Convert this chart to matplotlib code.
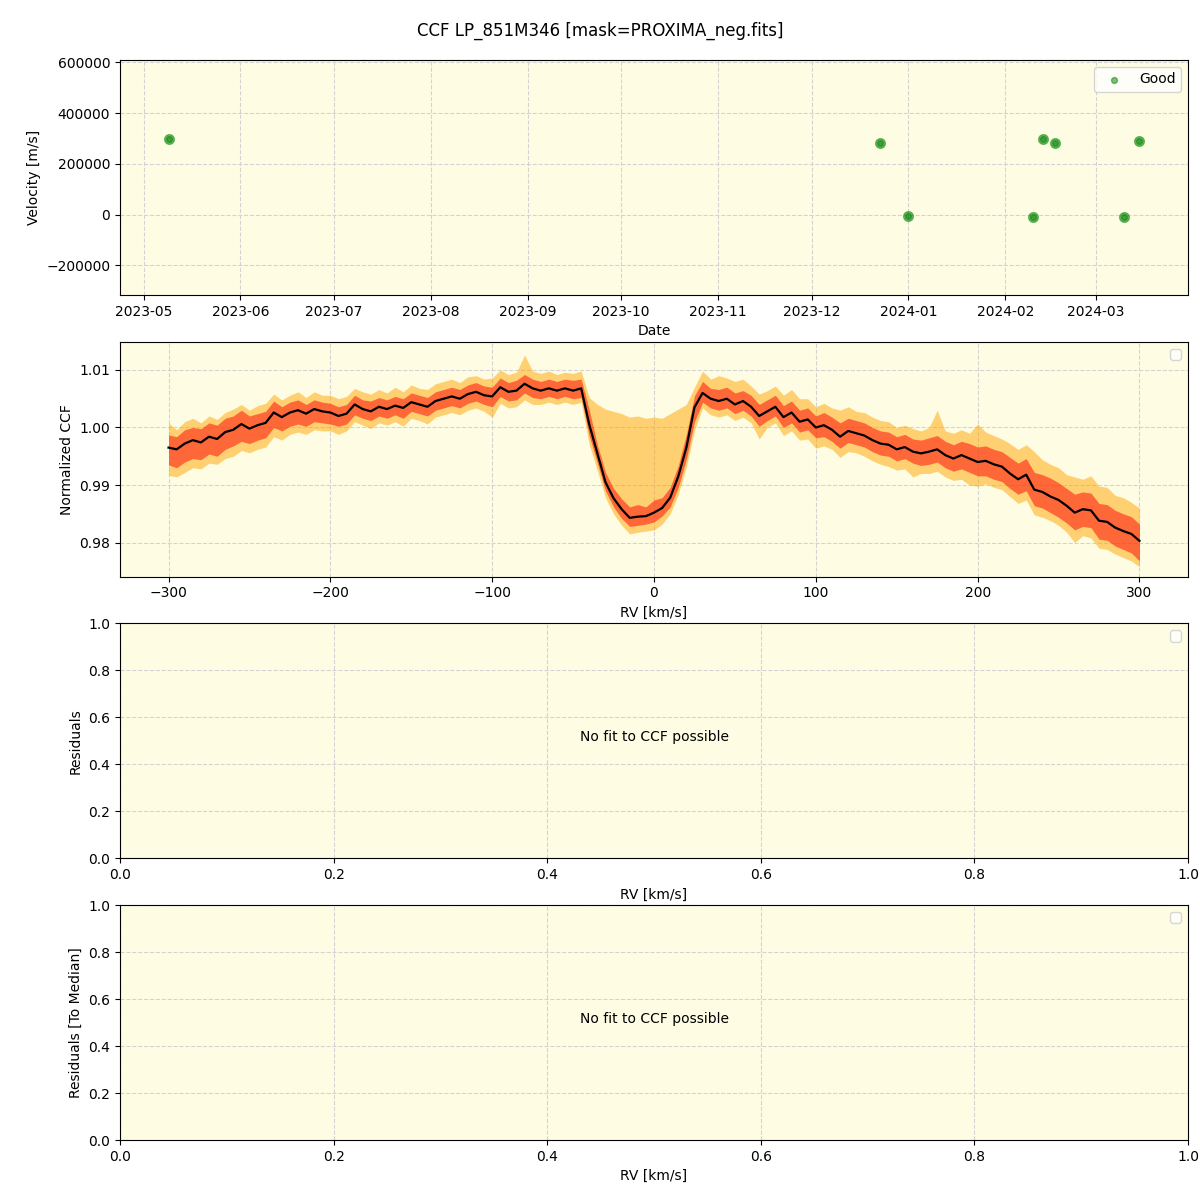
import numpy as np
import matplotlib
matplotlib.use('Agg')
from matplotlib import pyplot as plt
import matplotlib.dates as mdates
from datetime import datetime

# --- RV time series (top panel)
obs_dates = ['2023-05-09', '2023-12-23', '2024-01-01', '2024-02-10',
             '2024-02-13', '2024-02-17', '2024-03-10', '2024-03-15']
obs_rv = [298100, 282400, -6700, -10600, 298100, 282400, -10600, 290200]

# --- CCF profile (second panel), RV grid in km/s
rv = np.arange(-300, 301, 5)
ccf_med = [
    0.9965, 0.9962, 0.9972, 0.9978, 0.9974, 0.9984, 0.9980, 0.9992, 0.9996, 1.0006,
    0.9998, 1.0004, 1.0008, 1.0026, 1.0018, 1.0026, 1.0030, 1.0024, 1.0032, 1.0028,
    1.0026, 1.0020, 1.0024, 1.0040, 1.0032, 1.0028, 1.0036, 1.0032, 1.0038, 1.0034,
    1.0044, 1.0040, 1.0036, 1.0046, 1.0050, 1.0054, 1.0050, 1.0058, 1.0062, 1.0056,
    1.0054, 1.0070, 1.0062, 1.0064, 1.0076, 1.0068, 1.0064, 1.0068, 1.0064, 1.0068,
    1.0064, 1.0068, 1.0005, 0.9955, 0.9905, 0.9877, 0.9858, 0.9843, 0.9845, 0.9846,
    0.9852, 0.9860, 0.9878, 0.9915, 0.9965, 1.0035, 1.0060, 1.0050, 1.0046, 1.0050,
    1.0040, 1.0046, 1.0036, 1.0020, 1.0028, 1.0036, 1.0018, 1.0026, 1.0010, 1.0014,
    1.0000, 1.0004, 0.9996, 0.9984, 0.9994, 0.9990, 0.9986, 0.9978, 0.9972, 0.9970,
    0.9962, 0.9966, 0.9958, 0.9955, 0.9958, 0.9962, 0.9952, 0.9946, 0.9952, 0.9946,
    0.9940, 0.9942, 0.9936, 0.9932, 0.9920, 0.9910, 0.9918, 0.9892, 0.9888, 0.9880,
    0.9874, 0.9864, 0.9852, 0.9858, 0.9856, 0.9838, 0.9836, 0.9826, 0.9820, 0.9815,
    0.9803]
ccf_in_lo = [
    0.9935, 0.9930, 0.9940, 0.9946, 0.9944, 0.9954, 0.9950, 0.9962, 0.9968, 0.9976,
    0.9972, 0.9978, 0.9982, 1.0000, 0.9994, 1.0002, 1.0006, 1.0002, 1.0010, 1.0008,
    1.0006, 1.0002, 1.0006, 1.0022, 1.0016, 1.0012, 1.0020, 1.0016, 1.0022, 1.0016,
    1.0028, 1.0024, 1.0020, 1.0030, 1.0034, 1.0038, 1.0034, 1.0042, 1.0046, 1.0040,
    1.0036, 1.0054, 1.0046, 1.0048, 1.0060, 1.0052, 1.0050, 1.0054, 1.0050, 1.0054,
    1.0050, 1.0052, 0.9985, 0.9938, 0.9890, 0.9862, 0.9842, 0.9828, 0.9830, 0.9832,
    0.9836, 0.9846, 0.9862, 0.9896, 0.9945, 1.0010, 1.0044, 1.0034, 1.0030, 1.0034,
    1.0024, 1.0030, 1.0020, 1.0002, 1.0012, 1.0020, 1.0000, 1.0008, 0.9992, 0.9996,
    0.9982, 0.9984, 0.9976, 0.9964, 0.9974, 0.9970, 0.9966, 0.9958, 0.9952, 0.9950,
    0.9942, 0.9946, 0.9938, 0.9934, 0.9936, 0.9940, 0.9930, 0.9924, 0.9928, 0.9922,
    0.9916, 0.9916, 0.9910, 0.9906, 0.9894, 0.9884, 0.9890, 0.9864, 0.9860, 0.9852,
    0.9844, 0.9834, 0.9822, 0.9828, 0.9826, 0.9806, 0.9804, 0.9794, 0.9788, 0.9782,
    0.9768]
ccf_in_hi = [
    0.9987, 0.9984, 0.9996, 1.0000, 0.9998, 1.0008, 1.0004, 1.0016, 1.0020, 1.0030,
    1.0020, 1.0024, 1.0028, 1.0046, 1.0036, 1.0044, 1.0048, 1.0040, 1.0048, 1.0044,
    1.0042, 1.0036, 1.0040, 1.0056, 1.0048, 1.0046, 1.0052, 1.0048, 1.0054, 1.0050,
    1.0060, 1.0056, 1.0052, 1.0062, 1.0066, 1.0070, 1.0066, 1.0074, 1.0078, 1.0072,
    1.0070, 1.0086, 1.0078, 1.0082, 1.0092, 1.0084, 1.0080, 1.0084, 1.0080, 1.0084,
    1.0082, 1.0084, 1.0030, 0.9970, 0.9922, 0.9894, 0.9876, 0.9862, 0.9866, 0.9862,
    0.9874, 0.9878, 0.9896, 0.9934, 0.9988, 1.0055, 1.0080, 1.0068, 1.0066, 1.0070,
    1.0060, 1.0064, 1.0056, 1.0040, 1.0048, 1.0056, 1.0038, 1.0046, 1.0030, 1.0034,
    1.0020, 1.0026, 1.0018, 1.0008, 1.0016, 1.0012, 1.0008, 1.0000, 0.9994, 0.9992,
    0.9984, 0.9988, 0.9980, 0.9978, 0.9982, 0.9986, 0.9976, 0.9970, 0.9976, 0.9972,
    0.9966, 0.9968, 0.9962, 0.9958, 0.9948, 0.9938, 0.9946, 0.9922, 0.9918, 0.9912,
    0.9904, 0.9894, 0.9884, 0.9888, 0.9886, 0.9868, 0.9866, 0.9856, 0.9850, 0.9845,
    0.9832]
ccf_out_lo = [
    0.9917, 0.9914, 0.9922, 0.9930, 0.9928, 0.9938, 0.9936, 0.9946, 0.9950, 0.9960,
    0.9956, 0.9962, 0.9966, 0.9984, 0.9978, 0.9988, 0.9992, 0.9988, 0.9996, 0.9994,
    0.9994, 0.9988, 0.9994, 1.0010, 1.0004, 0.9998, 1.0008, 1.0004, 1.0010, 1.0002,
    1.0016, 1.0012, 1.0006, 1.0018, 1.0022, 1.0026, 1.0022, 1.0030, 1.0034, 1.0028,
    1.0018, 1.0042, 1.0034, 1.0036, 1.0048, 1.0040, 1.0040, 1.0044, 1.0040, 1.0044,
    1.0040, 1.0044, 0.9970, 0.9925, 0.9878, 0.9850, 0.9830, 0.9815, 0.9818, 0.9820,
    0.9822, 0.9832, 0.9850, 0.9884, 0.9932, 0.9995, 1.0034, 1.0022, 1.0018, 1.0022,
    1.0012, 1.0018, 1.0008, 0.9980, 1.0000, 1.0008, 0.9986, 0.9994, 0.9978, 0.9980,
    0.9964, 0.9968, 0.9962, 0.9948, 0.9958, 0.9956, 0.9950, 0.9942, 0.9936, 0.9932,
    0.9926, 0.9928, 0.9914, 0.9920, 0.9920, 0.9924, 0.9914, 0.9908, 0.9910, 0.9900,
    0.9898, 0.9902, 0.9896, 0.9892, 0.9880, 0.9868, 0.9874, 0.9848, 0.9844, 0.9838,
    0.9830, 0.9818, 0.9800, 0.9812, 0.9808, 0.9790, 0.9788, 0.9780, 0.9774, 0.9768,
    0.9758]
ccf_out_hi = [
    1.0008, 0.9996, 1.0010, 1.0016, 1.0008, 1.0020, 1.0014, 1.0026, 1.0032, 1.0040,
    1.0030, 1.0038, 1.0042, 1.0058, 1.0048, 1.0056, 1.0062, 1.0052, 1.0062, 1.0056,
    1.0056, 1.0050, 1.0054, 1.0068, 1.0062, 1.0058, 1.0066, 1.0060, 1.0070, 1.0062,
    1.0074, 1.0068, 1.0066, 1.0076, 1.0080, 1.0084, 1.0078, 1.0088, 1.0090, 1.0084,
    1.0086, 1.0100, 1.0092, 1.0096, 1.0126, 1.0098, 1.0094, 1.0098, 1.0092, 1.0096,
    1.0094, 1.0098, 1.0052, 1.0040, 1.0032, 1.0028, 1.0024, 1.0018, 1.0020, 1.0016,
    1.0018, 1.0016, 1.0024, 1.0032, 1.0040, 1.0070, 1.0098, 1.0084, 1.0090, 1.0086,
    1.0080, 1.0084, 1.0072, 1.0058, 1.0064, 1.0072, 1.0056, 1.0066, 1.0050, 1.0050,
    1.0036, 1.0042, 1.0034, 1.0030, 1.0036, 1.0028, 1.0026, 1.0018, 1.0012, 1.0010,
    1.0000, 1.0004, 0.9998, 0.9994, 1.0000, 1.0030, 0.9994, 0.9990, 0.9996, 0.9990,
    1.0006, 0.9992, 0.9986, 0.9980, 0.9972, 0.9962, 0.9970, 0.9958, 0.9944, 0.9936,
    0.9930, 0.9918, 0.9914, 0.9910, 0.9916, 0.9898, 0.9896, 0.9882, 0.9878, 0.9870,
    0.9860]

bg = '#fefde3'
grid_kw = dict(color='lightgray', linestyle='--', linewidth=0.8)

fig, axes = plt.subplots(4, 1, figsize=(12, 12), dpi=100)
fig.subplots_adjust(left=0.1, right=0.99, top=0.95, bottom=0.05, hspace=0.2)
fig.suptitle('CCF LP_851M346 [mask=PROXIMA_neg.fits]', y=0.982)

# top: velocities vs date
ax = axes[0]
ax.set_facecolor(bg)
d = [datetime.strptime(s, '%Y-%m-%d') for s in obs_dates]
ax.plot(d, obs_rv, 'o', color='green', alpha=0.5, ms=7)
ax.scatter(d, obs_rv, color='green', alpha=0.5, s=18, label='Good', zorder=3)
ax.set_ylim(-316000, 609000)
ax.xaxis.set_major_locator(mdates.MonthLocator())
ax.xaxis.set_major_formatter(mdates.DateFormatter('%Y-%m'))
ax.set_xlabel('Date')
ax.set_ylabel('Velocity [m/s]')
ax.grid(True, **grid_kw)
ax.set_axisbelow(True)
ax.legend(loc='upper right')

# second: CCF
ax = axes[1]
ax.set_facecolor(bg)
ax.fill_between(rv, ccf_out_lo, ccf_out_hi, color='orange', alpha=0.5, lw=0)
ax.fill_between(rv, ccf_in_lo, ccf_in_hi, color='red', alpha=0.5, lw=0)
ax.plot(rv, ccf_med, color='black', lw=1.6)
ax.set_ylim(0.9741, 1.0149)
ax.set_xlabel('RV [km/s]')
ax.set_ylabel('Normalized CCF')
ax.grid(True, **grid_kw)
ax.set_axisbelow(True)
ax.legend(handles=[], loc='upper right')

# residual panels
for ax, lab in zip(axes[2:], ['Residuals', 'Residuals [To Median]']):
    ax.set_facecolor(bg)
    ax.text(0.5, 0.5, 'No fit to CCF possible', transform=ax.transAxes,
            ha='center')
    ax.set_xlim(0, 1)
    ax.set_ylim(0, 1)
    ax.set_xlabel('RV [km/s]')
    ax.set_ylabel(lab)
    ax.grid(True, **grid_kw)
    ax.set_axisbelow(True)
    ax.legend(handles=[], loc='upper right')

plt.savefig('out.png')
